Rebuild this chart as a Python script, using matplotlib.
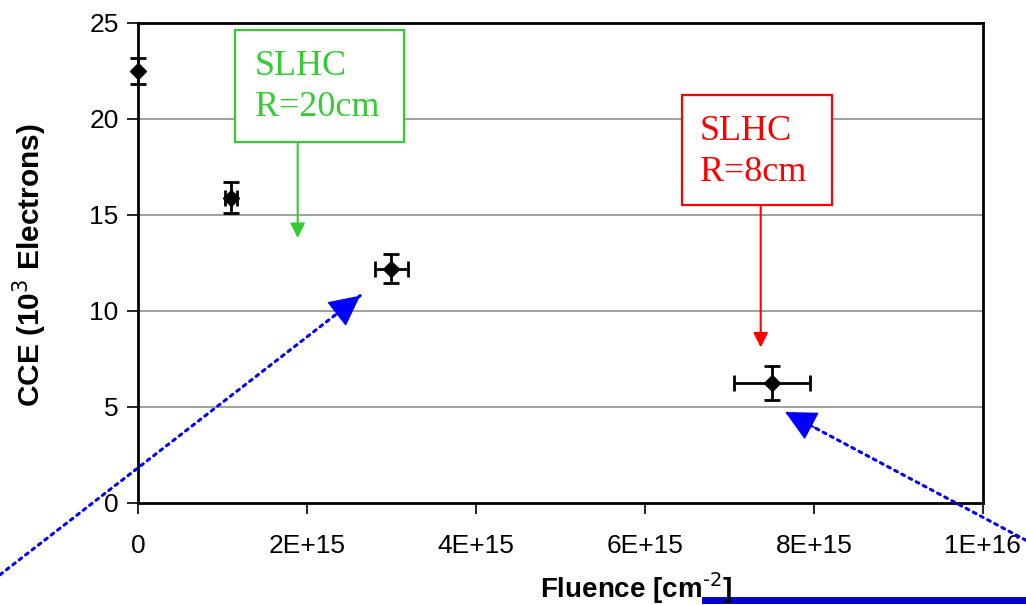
import matplotlib.pyplot as plt
from matplotlib.patches import Rectangle

# data
fluence = [0, 1.1e15, 3.0e15, 7.5e15]
cce = [22.5, 15.9, 12.2, 6.25]
cce_err = [0.7, 0.8, 0.75, 0.9]
fluence_err = [0, 0.07e15, 0.2e15, 0.45e15]

xticks = [0, 2e15, 4e15, 6e15, 8e15, 1e16]
xtick_labels = ['0', '2E+15', '4E+15', '6E+15', '8E+15', '1E+16']
yticks = [0, 5, 10, 15, 20, 25]

plt.rcParams['font.family'] = ['Liberation Sans', 'DejaVu Sans']

W, H = 1026, 605
fig = plt.figure(figsize=(W / 100, H / 100), dpi=100)
ax = fig.add_axes([0.1345, 0.1686, 0.8235, 0.7934])

# gridlines
for y in yticks[1:-1]:
    ax.axhline(y, color='#999999', lw=1.3, zorder=0)

ax.errorbar(fluence, cce, yerr=cce_err, xerr=fluence_err, fmt='D', color='black',
            ms=8.5, elinewidth=2, capsize=6, capthick=2, zorder=3, clip_on=False)

ax.set_xlim(0, 1e16)
ax.set_ylim(0, 25)
ax.set_xticks(xticks)
ax.set_xticklabels(xtick_labels)
ax.set_yticks(yticks)
ax.tick_params(axis='both', labelsize=19, direction='out', length=8, width=1.2)
ax.tick_params(axis='x', pad=14)
ax.tick_params(axis='y', pad=6)
for s in ax.spines.values():
    s.set_linewidth(2)

fig.text(30 / W, 1 - 265 / H, 'CCE (10$^3$ Electrons)', fontsize=21.5, fontweight='bold',
         rotation=90, ha='center', va='center')
fig.text(0.62, 0.028, r'Fluence [cm$^{\text{-2}}$]', fontsize=20, fontweight='bold',
         ha='center', va='center')


def box(x, y, w, h, color):
    # box given in picture pixels (top-left origin)
    fig.add_artist(Rectangle((x / W, 1 - (y + h) / H), w / W, h / H, fill=True,
                             fc='white', ec=color, lw=1.6, transform=fig.transFigure,
                             zorder=4))


# SLHC boxes with arrows
green = '#33cc33'
box(235, 30, 169, 112, green)
fig.text(255 / W, 1 - 87 / H, 'SLHC\nR=20cm', color=green, fontsize=26,
         family='Liberation Serif', va='center', ha='left', linespacing=1.3, zorder=5)
ax.annotate('', xy=(1.89e15, 13.8), xytext=(1.89e15, 18.9),
            arrowprops=dict(arrowstyle='-|>', color=green, lw=1.5, mutation_scale=22,
                            shrinkA=0, shrinkB=0))

box(682, 95, 150, 110, 'red')
fig.text(700 / W, 1 - 152 / H, 'SLHC\nR=8cm', color='red', fontsize=26,
         family='Liberation Serif', va='center', ha='left', linespacing=1.3, zorder=5)
ax.annotate('', xy=(7.37e15, 8.1), xytext=(7.37e15, 15.5),
            arrowprops=dict(arrowstyle='-|>', color='red', lw=1.5, mutation_scale=22,
                            shrinkA=0, shrinkB=0))

# blue dotted arrows coming from outside
blue = '#0000ff'
for tip, tail, back in [((2.63e15, 10.8), (0.0, 0.05), (-19.9, -15.5)),
                        ((7.66e15, 4.74), (1.0, 0.107), (22.3, -11.8))]:
    ax.annotate('', xy=tip, xycoords='data', xytext=tail, textcoords='figure fraction',
                arrowprops=dict(arrowstyle='-', color=blue, lw=2.2, ls=':',
                                shrinkA=0, shrinkB=0), annotation_clip=False)
    ax.annotate('', xy=tip, xycoords='data', xytext=back, textcoords='offset points',
                arrowprops=dict(arrowstyle='-|>,head_length=1.0,head_width=0.5',
                                color=blue, lw=1, mutation_scale=20,
                                shrinkA=0, shrinkB=0), annotation_clip=False)

fig.add_artist(plt.Line2D([0.687, 1.0], [0.008, 0.008], color='#0000cc', lw=5,
                          transform=fig.transFigure))

fig.savefig('out.png', dpi=100)
